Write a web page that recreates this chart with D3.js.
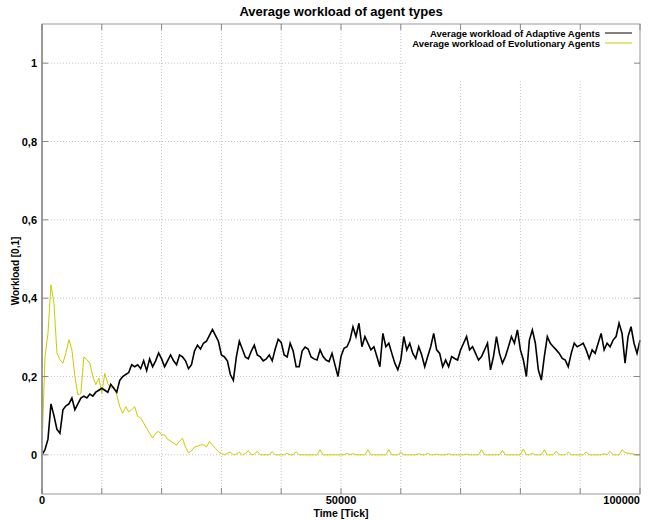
<!DOCTYPE html>
<html>
<head>
<meta charset="utf-8">
<script src="https://cdn.jsdelivr.net/npm/d3@7"></script>
<style>
    body { margin: 0; background: #fff; }
    text { font-family: "Liberation Sans", Arial, sans-serif; font-weight: bold; fill: #000; }
</style>
</head>
<body>
<div id="svg"></div>
<script>
// Sample step of the simulation output (ticks)
var step = 500;

// Average workload of the adaptive agents, one value every 500 ticks
var adaptive = [
    0, 0.013, 0.04, 0.13, 0.10, 0.065, 0.055, 0.115, 0.125, 0.13,
    0.145, 0.115, 0.13, 0.145, 0.15, 0.145, 0.155, 0.15, 0.16, 0.165,
    0.17, 0.165, 0.16, 0.18, 0.17, 0.16, 0.19, 0.2, 0.205, 0.21,
    0.23, 0.225, 0.23, 0.22, 0.24, 0.215, 0.245, 0.225, 0.24, 0.26,
    0.245, 0.225, 0.24, 0.255, 0.24, 0.23, 0.255, 0.25, 0.24, 0.22,
    0.23, 0.265, 0.28, 0.27, 0.285, 0.29, 0.305, 0.32, 0.305, 0.29,
    0.255, 0.25, 0.24, 0.205, 0.19, 0.25, 0.29, 0.27, 0.25, 0.245,
    0.265, 0.28, 0.255, 0.25, 0.24, 0.245, 0.255, 0.24, 0.27, 0.295,
    0.287, 0.255, 0.25, 0.285, 0.265, 0.225, 0.225, 0.265, 0.275, 0.27,
    0.25, 0.245, 0.242, 0.268, 0.251, 0.242, 0.238, 0.259, 0.229, 0.2,
    0.251, 0.272, 0.276, 0.293, 0.327, 0.302, 0.336, 0.276, 0.302, 0.285,
    0.268, 0.276, 0.251, 0.225, 0.31, 0.276, 0.285, 0.259, 0.234, 0.217,
    0.242, 0.302, 0.268, 0.285, 0.259, 0.246, 0.276, 0.255, 0.225, 0.251,
    0.276, 0.31, 0.268, 0.259, 0.225, 0.242, 0.225, 0.251, 0.246, 0.242,
    0.268, 0.285, 0.302, 0.268, 0.276, 0.259, 0.242, 0.251, 0.268, 0.285,
    0.217, 0.251, 0.302, 0.259, 0.234, 0.251, 0.276, 0.302, 0.285, 0.319,
    0.268, 0.242, 0.2, 0.293, 0.319, 0.285, 0.217, 0.191, 0.251, 0.302,
    0.285, 0.276, 0.268, 0.259, 0.246, 0.242, 0.225, 0.259, 0.285, 0.276,
    0.28, 0.285, 0.268, 0.246, 0.268, 0.259, 0.285, 0.31, 0.268, 0.285,
    0.276, 0.293, 0.302, 0.336, 0.31, 0.234, 0.302, 0.327, 0.285, 0.259,
    0.293
];

// Average workload of the evolutionary agents, same sampling
var evolutionary = [
    0.02, 0.25, 0.31, 0.434, 0.387, 0.26, 0.243, 0.234, 0.26, 0.294,
    0.268, 0.2, 0.153, 0.157, 0.25, 0.243, 0.234, 0.2, 0.179, 0.196,
    0.157, 0.208, 0.183, 0.17, 0.174, 0.153, 0.123, 0.106, 0.123, 0.11,
    0.115, 0.123, 0.098, 0.094, 0.081, 0.068, 0.055, 0.043, 0.055, 0.06,
    0.051, 0.051, 0.04, 0.035, 0.03, 0.025, 0.035, 0.042, 0.02, 0.005,
    0.01, 0.02, 0.022, 0.025, 0.026, 0.02, 0.034, 0.025, 0.017, 0.008,
    0.004, 0, 0.004, 0.007, 0, 0.002, 0.007, 0, 0.003, 0.011,
    0, 0.002, 0.009, 0, 0, 0, 0, 0.008, 0, 0,
    0, 0, 0.004, 0, 0, 0.008, 0, 0, 0, 0,
    0, 0, 0, 0.013, 0, 0, 0, 0, 0, 0,
    0, 0, 0.004, 0, 0.003, 0, 0, 0, 0, 0.013,
    0, 0, 0, 0, 0, 0, 0.013, 0, 0, 0,
    0.007, 0, 0, 0, 0, 0, 0.003, 0, 0, 0.004,
    0, 0, 0.002, 0, 0, 0, 0.003, 0, 0, 0,
    0, 0, 0.002, 0, 0, 0, 0, 0.013, 0, 0,
    0, 0, 0, 0, 0.011, 0, 0, 0, 0, 0,
    0, 0.015, 0, 0, 0.004, 0, 0, 0, 0.013, 0,
    0, 0, 0.009, 0, 0, 0, 0.007, 0, 0, 0,
    0, 0, 0.007, 0, 0, 0, 0, 0, 0.003, 0,
    0.009, 0, 0, 0, 0.013, 0.006, 0.004, 0.003, 0.002, 0,
    0
];

// Axis ticks and labels
var xGrid = [0, 10000, 20000, 30000, 40000, 50000, 60000, 70000, 80000, 90000, 100000];
var xLabels = [0, 50000, 100000];
var yGrid = [0, 0.2, 0.4, 0.6, 0.8, 1];
var yLabels = ["0", "0,2", "0,4", "0,6", "0,8", "1"];

var seriesNames = ["Average workload of Adaptive Agents", "Average workload of Evolutionary Agents"];
var seriesColors = ["#000000", "#cccc00"];

function drawGraph() {
    var svgWidth = 650;
    var svgHeight = 520;
    var margins = { top: 24, bottom: 26, left: 42, right: 10 };
    var width = svgWidth - margins.left - margins.right;
    var height = svgHeight - margins.top - margins.bottom;

    var svg = d3.select("#svg")
        .append("svg")
        .attr("width", svgWidth)
        .attr("height", svgHeight);

    // Title
    svg.append("text")
        .attr("x", margins.left + width / 2)
        .attr("y", 16)
        .attr("text-anchor", "middle")
        .style("font-size", "13px")
        .text("Average workload of agent types");

    var g = svg.append("g")
        .attr("transform", "translate(" + margins.left + "," + margins.top + ")");

    var x = d3.scaleLinear().domain([0, 100000]).range([0, width]);
    var y = d3.scaleLinear().domain([-0.1, 1.1]).range([height, 0]);

    // Dotted grid
    g.selectAll(".vgrid").data(xGrid.slice(1, -1)).enter()
        .append("line")
        .attr("x1", d => x(d)).attr("x2", d => x(d))
        .attr("y1", 0).attr("y2", height)
        .attr("stroke", "#c4c4c4")
        .attr("stroke-dasharray", "1,2");
    g.selectAll(".hgrid").data(yGrid).enter()
        .append("line")
        .attr("x1", 0).attr("x2", width)
        .attr("y1", d => y(d)).attr("y2", d => y(d))
        .attr("stroke", "#c4c4c4")
        .attr("stroke-dasharray", "1,2");

    // Legend box hides the grid behind it
    g.append("rect")
        .attr("x", 365).attr("y", 1)
        .attr("width", width - 366).attr("height", 55)
        .attr("fill", "#fff");

    // Series lines
    var line = d3.line()
        .x((d, i) => x(i * step))
        .y(d => y(d));

    g.append("path")
        .attr("d", line(evolutionary))
        .attr("fill", "none")
        .attr("stroke", seriesColors[1])
        .attr("stroke-width", 1);
    g.append("path")
        .attr("d", line(adaptive))
        .attr("fill", "none")
        .attr("stroke", seriesColors[0])
        .attr("stroke-width", 1.6);

    // Frame
    g.append("rect")
        .attr("x", 0).attr("y", 0)
        .attr("width", width).attr("height", height)
        .attr("fill", "none")
        .attr("stroke", "#999");
    g.append("line")
        .attr("x1", 0).attr("x2", 0).attr("y1", 0).attr("y2", height)
        .attr("stroke", "#999").attr("stroke-width", 2);

    // Inward tick marks on all four sides
    g.selectAll(".tb").data(xGrid).enter().append("line")
        .attr("x1", d => x(d)).attr("x2", d => x(d))
        .attr("y1", height).attr("y2", height - 6)
        .attr("stroke", "#888");
    g.selectAll(".tt").data(xGrid).enter().append("line")
        .attr("x1", d => x(d)).attr("x2", d => x(d))
        .attr("y1", 0).attr("y2", 6)
        .attr("stroke", "#888");
    g.selectAll(".tl").data(yGrid).enter().append("line")
        .attr("x1", 0).attr("x2", 6)
        .attr("y1", d => y(d)).attr("y2", d => y(d))
        .attr("stroke", "#888");
    g.selectAll(".tr").data(yGrid).enter().append("line")
        .attr("x1", width).attr("x2", width - 6)
        .attr("y1", d => y(d)).attr("y2", d => y(d))
        .attr("stroke", "#888");

    // Tick labels (the last one is kept inside the page)
    g.selectAll(".xl").data(xLabels).enter().append("text")
        .attr("x", d => x(d))
        .attr("y", height + 10)
        .attr("text-anchor", (d, i) => i == xLabels.length - 1 ? "end" : "middle")
        .style("font-size", "11px")
        .text(d => d);
    g.selectAll(".yl").data(yGrid).enter().append("text")
        .attr("x", -5)
        .attr("y", d => y(d) + 4)
        .attr("text-anchor", "end")
        .style("font-size", "11px")
        .text((d, i) => yLabels[i]);

    // Axis titles
    svg.append("text")
        .attr("x", margins.left + width / 2)
        .attr("y", 517)
        .attr("text-anchor", "middle")
        .style("font-size", "10.5px")
        .text("Time [Tick]");
    svg.append("text")
        .attr("transform", "translate(19,271) rotate(-90)")
        .attr("text-anchor", "middle")
        .style("font-size", "10px")
        .text("Workload [0,1]");

    // Legend
    seriesNames.forEach(function (name, i) {
        var ly = 9 + i * 10;
        g.append("text")
            .attr("x", 558)
            .attr("y", ly + 3.5)
            .attr("text-anchor", "end")
            .style("font-size", "9.5px")
            .text(name);
        g.append("line")
            .attr("x1", 563).attr("x2", 590)
            .attr("y1", ly).attr("y2", ly)
            .attr("stroke", seriesColors[i]);
    });
}

drawGraph();
</script>
</body>
</html>
